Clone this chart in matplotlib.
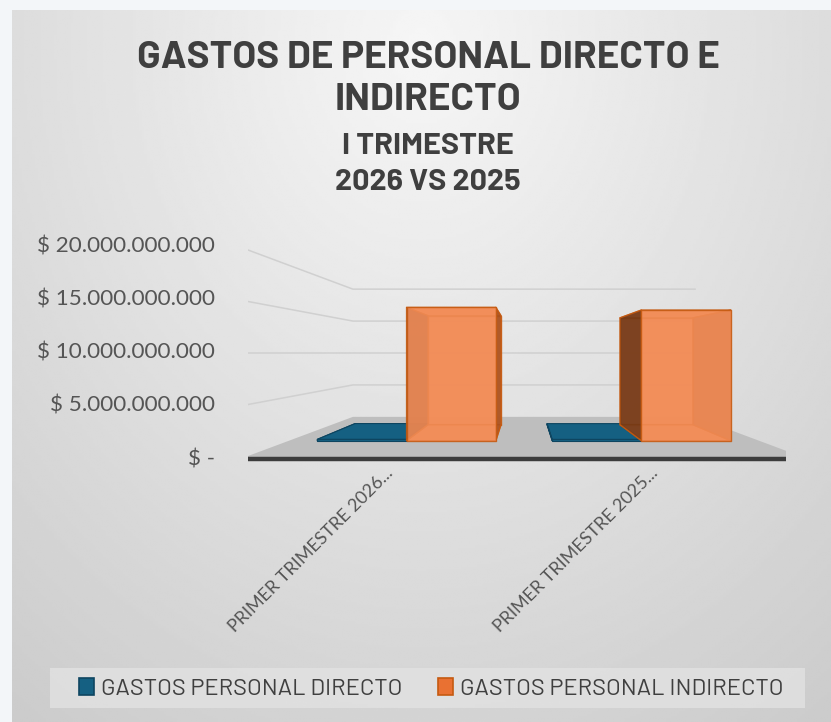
import matplotlib
matplotlib.use('Agg')  # Use non-interactive backend
import matplotlib.pyplot as plt
import numpy as np
from matplotlib.patches import Patch, Rectangle

# Data
categories = ["PRIMER TRIMESTRE 2026...", "PRIMER TRIMESTRE 2025..."]
series_names = ["GASTOS PERSONAL DIRECTO", "GASTOS PERSONAL INDIRECTO"]
gastos_directo = [150_000_000, 140_000_000]
gastos_indirecto = [15_200_000_000, 14_900_000_000]
value_ticks = [0, 5_000_000_000, 10_000_000_000, 15_000_000_000, 20_000_000_000]

title_lines = ["GASTOS DE PERSONAL DIRECTO E", "INDIRECTO", "I TRIMESTRE", "2026 VS 2025"]

series_colors = ['#156082', '#E97132']
edge_colors = ['#0E4560', '#C55A11']
text_color = '#3F3F3F'
label_color = '#555555'

TITLE_FONT = ['Barlow', 'DejaVu Sans']
REGULAR = ['Lato', 'DejaVu Sans']

W, H = 831, 722
fig = plt.figure(figsize=(W / 100, H / 100), dpi=100)
fig.patch.set_facecolor('#F3F6F9')

# Gradient background of the chart area
bg = fig.add_axes([12 / W, 0, 1 - 12 / W, 1 - 10 / H])
gx, gy = np.meshgrid(np.linspace(0, 1, 300), np.linspace(0, 1, 300))
r = np.sqrt(((gx - 0.5) / 0.75) ** 2 + ((gy - 0.05) / 1.05) ** 2)
shade = np.clip(0.965 - 0.15 * r, 0.80, 0.965)
bg.imshow(shade, cmap='gray', vmin=0, vmax=1, aspect='auto', interpolation='bilinear')
bg.set_axis_off()

# 3D axes
ax = fig.add_axes([0, 0, 1, 1], projection='3d', computed_zorder=False)
ax.patch.set_alpha(0)
ax.set_axis_off()

x_min, x_max = -0.5, len(categories) - 0.5
y_front, y_back = 0.0, 1.0
z_max = value_ticks[-1]
ax.set_xlim(x_min, x_max)
ax.set_ylim(y_front, y_back)
ax.set_zlim(0, z_max)
ax.set_box_aspect((568, 420, 212))
ax.view_init(elev=0, azim=-90)


def depth_ratio(f):
    ax.set_proj_type('persp', focal_length=f)
    M = ax.get_proj()

    def px(x, y, z):
        v = M @ np.array([x, y, z, 1.0])
        return v[0] / v[3]
    front = px(x_max, y_front, 0) - px(x_min, y_front, 0)
    back = px(x_max, y_back, 0) - px(x_min, y_back, 0)
    return front / back


# pick focal length so the back wall looks ~1.66x smaller than the front
lo, hi = 0.02, 5.0
for _ in range(60):
    mid = 0.5 * (lo + hi)
    if depth_ratio(mid) > 1.66:
        lo = mid
    else:
        hi = mid
ax.set_proj_type('persp', focal_length=0.5 * (lo + hi))

# Walls: gridlines on side wall and back wall
grid_color = '#D0D0D0'
for z in value_ticks[1:]:
    ax.plot([x_min, x_min, x_max], [y_front, y_back, y_back], [z, z, z],
            color=grid_color, lw=1.1, zorder=1)

# Floor
fx, fy = np.meshgrid([x_min, x_max], [y_front, y_back])
ax.plot_surface(fx, fy, np.zeros_like(fx), color='#BEBEBE', shade=False, zorder=2)
ax.plot([x_min, x_max], [y_front, y_front], [0, 0], color='#3C3C3C', lw=3.2,
        solid_capstyle='round', zorder=3)

# Bars (face order in bar3d: bottom, top, front, back, left, right)
bar_w = 0.38
bar_y0, bar_d = 0.317, 0.41
xpos = np.arange(len(categories))
n = len(xpos)
orange_faces = ['#F08A55', '#EE8550', '#F38E59', '#F08A55', '#6B3515', '#A5501F'] * n
ax.bar3d(xpos - bar_w, np.full(n, bar_y0), np.zeros(n),
         bar_w, bar_d, gastos_directo, color=series_colors[0],
         edgecolor=edge_colors[0], linewidth=0.8, shade=False, zorder=4)
ax.bar3d(xpos, np.full(n, bar_y0), np.zeros(n),
         bar_w, bar_d, gastos_indirecto, color=orange_faces, alpha=0.86,
         edgecolor=edge_colors[1], linewidth=1.0, shade=False, zorder=5)

# Align the projected front plane with the reference layout
fig.canvas.draw()


def to_display(x, y, z):
    v = ax.get_proj() @ np.array([x, y, z, 1.0])
    return ax.transData.transform((v[0] / v[3], v[1] / v[3]))


p1 = ax.transAxes.inverted().transform(to_display(x_min, y_front, 0))
p2 = ax.transAxes.inverted().transform(to_display(x_max, y_front, 0))
size = (808 - 240) / (p2[0] - p1[0])
x0 = 240 - p1[0] * size
y0 = (H - 459) - p1[1] * size
ax.set_position([x0 / W, y0 / H, size / W, size / H])
fig.canvas.draw()

# Value axis labels, placed at the projected front edge of the side wall
for z in value_ticks:
    lab = '$ -' if z == 0 else '$ ' + f'{z:,.0f}'.replace(',', '.')
    px_, py_ = to_display(x_min, y_front, z)
    fig.text((px_ - 25) / W, py_ / H, lab, ha='right', va='center',
             fontsize=16.2, color=label_color, family=REGULAR)

# Category labels (rotated 45 degrees)
for xc, cat in zip(xpos, categories):
    px_, py_ = to_display(xc, 0.106, 0)
    fig.text((px_ - 7) / W, (py_ - 13) / H, cat, rotation=45, rotation_mode='anchor',
             ha='right', va='top', fontsize=13, color=label_color, family=REGULAR)

# Title
title_kw = dict(ha='center', va='center_baseline', color=text_color, family=TITLE_FONT,
                fontweight='bold')
fig.text(0.515, 1 - 54 / H, title_lines[0], fontsize=27.8, **title_kw)
fig.text(0.515, 1 - 97 / H, title_lines[1], fontsize=27.8, **title_kw)
fig.text(0.515, 1 - 143 / H, title_lines[2], fontsize=22, **title_kw)
fig.text(0.515, 1 - 180 / H, title_lines[3], fontsize=22, **title_kw)

# Legend
fig.patches.append(Rectangle((50 / W, 1 - 708 / H), 755 / W, 40 / H,
                             transform=fig.transFigure, facecolor='#E2E2E2',
                             edgecolor='none', alpha=0.8, zorder=0))
handles = [Patch(facecolor=c, edgecolor=e, linewidth=1.2) for c, e in zip(series_colors, edge_colors)]
fig.legend(handles, series_names, loc='center', bbox_to_anchor=(0.519, 1 - 689 / H),
           ncol=2, frameon=False, handlelength=0.65, handleheight=0.7, handletextpad=0.3,
           columnspacing=1.5, prop={'family': TITLE_FONT, 'size': 17}, labelcolor=text_color)

fig.savefig('out.png', dpi=100, facecolor=fig.get_facecolor())
